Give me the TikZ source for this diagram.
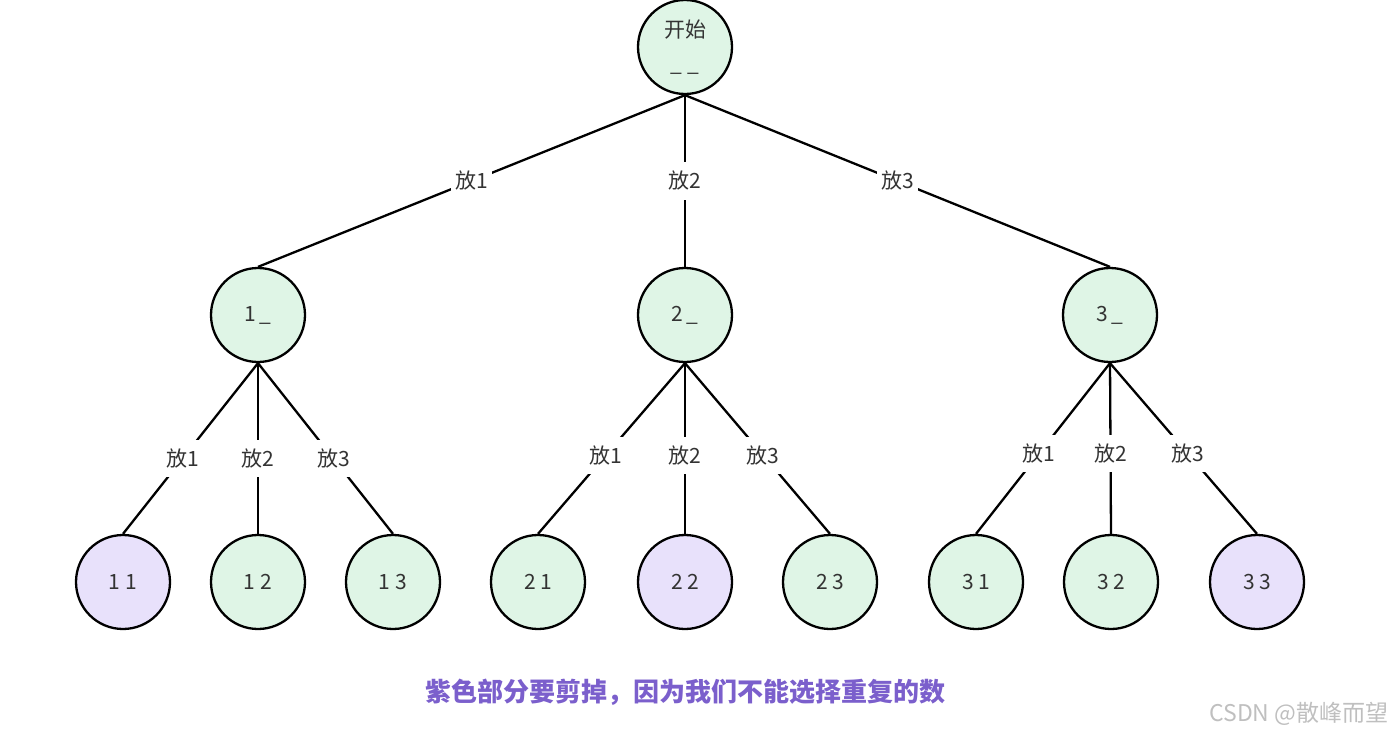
\documentclass[tikz,border=0pt]{standalone}
\usepackage{fontspec}
\setmainfont{Noto Sans CJK SC}
\usetikzlibrary{positioning}
\definecolor{mint}{HTML}{DFF5E6}
\definecolor{lilac}{HTML}{E8E1FB}
\definecolor{ink}{HTML}{333333}
\definecolor{note}{HTML}{7B5FCC}
\tikzset{
  state/.style={circle,draw,line width=2.3pt,minimum size=94pt,inner sep=0pt,fill=mint,text=ink,font=\fontsize{21}{24}\selectfont},
  cut/.style={state,fill=lilac},
  lbl/.style={fill=white,text=ink,inner xsep=4pt,inner ysep=9pt,font=\fontsize{21}{23}\selectfont},
  edge/.style={line width=2.3pt},
}
\begin{document}
\begin{tikzpicture}[x=1pt,y=-1pt]
			\useasboundingbox (0,0) rectangle (1396,739);
			% root and first level
			\node[state,align=center] (root) at (685,47) {开始\\[10pt]\_ \_};
			\node[state] (n1) at (258,315) {1\,\_};
			\node[state] (n2) at (685,315) {2\,\_};
			\node[state] (n3) at (1110,315) {3\,\_};
			% leaves
			\node[cut] (n11) at (123,582) {1 1};
			\node[state] (n12) at (258,582) {1 2};
			\node[state] (n13) at (393,582) {1 3};
			\node[state] (n21) at (538,582) {2 1};
			\node[cut] (n22) at (685,582) {2 2};
			\node[state] (n23) at (830,582) {2 3};
			\node[state] (n31) at (976,582) {3 1};
			\node[state] (n32) at (1111,582) {3 2};
			\node[cut] (n33) at (1257,582) {3 3};
			% edges
			\draw[edge] (root.south) -- node[lbl] {放1} (n1.north);
			\draw[edge] (root.south) -- node[lbl] {放2} (n2.north);
			\draw[edge] (root.south) -- node[lbl] {放3} (n3.north);
			\draw[edge] (n1.south) -- node[lbl,pos=0.56] {放1} (n11.north);
			\draw[edge] (n1.south) -- node[lbl,pos=0.56] {放2} (n12.north);
			\draw[edge] (n1.south) -- node[lbl,pos=0.56] {放3} (n13.north);
			\draw[edge] (n2.south) -- node[lbl,pos=0.54] {放1} (n21.north);
			\draw[edge] (n2.south) -- node[lbl,pos=0.54] {放2} (n22.north);
			\draw[edge] (n2.south) -- node[lbl,pos=0.54] {放3} (n23.north);
			\draw[edge] (n3.south) -- node[lbl,pos=0.53] {放1} (n31.north);
			\draw[edge] (n3.south) -- node[lbl,pos=0.53] {放2} (n32.north);
			\draw[edge] (n3.south) -- node[lbl,pos=0.53] {放3} (n33.north);
			% caption and watermark
			\node[text=note,font=\fontsize{26}{28}\selectfont\bfseries] (caption) at (685,692) {紫色部分要剪掉，因为我们不能选择重复的数};
			\node[anchor=east,text=black!25,font=\fontsize{23}{25}\selectfont] (mark) at (1392,714) {CSDN @散峰而望};
		\end{tikzpicture}
\end{document}
